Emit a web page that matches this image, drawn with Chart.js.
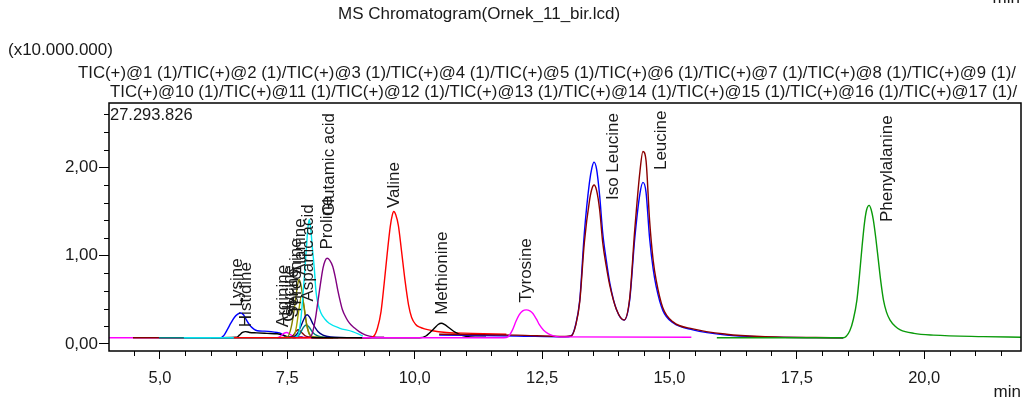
<!DOCTYPE html>
<html>
<head>
<meta charset="utf-8">
<script src="https://cdn.jsdelivr.net/npm/chart.js@4.4.1/dist/chart.umd.min.js"></script>
<style>
  html, body { margin: 0; padding: 0; background: #fff; }
  #wrap { width: 1026px; height: 404px; }
</style>
</head>
<body>
<div id="wrap"><canvas id="chart" width="1026" height="404"></canvas></div>
<script>
// Chromatogram traces, [time (min), intensity (x10.000.000)]
const lysine = [[6.20,0.07],[6.26,0.10],[6.33,0.17],[6.39,0.235],[6.46,0.30],[6.52,0.335],[6.59,0.35],[6.64,0.33],[6.68,0.29],[6.73,0.24],[6.78,0.20],[6.85,0.165],[6.91,0.15],[7.05,0.145],[7.18,0.14],[7.30,0.13],[7.37,0.12],[7.42,0.10],[7.47,0.08],[7.80,0.075]];
const histidine = [[6.00,0.07],[6.50,0.075],[6.56,0.10],[6.62,0.13],[6.68,0.14],[6.76,0.13],[6.90,0.125],[7.10,0.12],[7.30,0.115],[7.42,0.10],[7.52,0.08],[7.80,0.075]];
const arginine = [[4.00,0.07],[7.30,0.07],[7.37,0.09],[7.43,0.12],[7.49,0.13],[7.55,0.11],[7.62,0.085],[7.75,0.075],[8.20,0.07]];
const glycine = [[4.47,0.07],[7.55,0.07],[7.62,0.10],[7.68,0.15],[7.72,0.16],[7.78,0.13],[7.86,0.09],[7.98,0.075],[8.40,0.07]];
const serine = [[4.98,0.07],[7.65,0.07],[7.74,0.11],[7.82,0.19],[7.87,0.215],[7.93,0.19],[8.00,0.13],[8.10,0.09],[8.25,0.075],[8.50,0.07]];
const threonine = [[7.40,0.07],[7.62,0.075],[7.68,0.20],[7.73,0.40],[7.78,0.55],[7.83,0.42],[7.88,0.22],[7.94,0.10],[8.05,0.075],[8.40,0.07]];
const alanine = [[7.30,0.07],[7.50,0.08],[7.58,0.20],[7.65,0.45],[7.70,0.66],[7.73,0.73],[7.77,0.66],[7.82,0.45],[7.88,0.22],[7.95,0.10],[8.05,0.075],[8.40,0.07]];
const asparticAcid = [[7.30,0.07],[7.60,0.075],[7.70,0.12],[7.78,0.22],[7.85,0.31],[7.89,0.33],[7.94,0.30],[8.01,0.22],[8.10,0.14],[8.20,0.10],[8.35,0.08],[8.97,0.07]];
const glutamicAcid = [[5.47,0.07],[7.60,0.07],[7.70,0.09],[7.76,0.25],[7.83,0.73],[7.87,1.05],[7.90,1.29],[7.93,1.41],[7.96,1.30],[7.99,1.10],[8.03,0.85],[8.06,0.61],[8.10,0.46],[8.16,0.35],[8.24,0.28],[8.32,0.235],[8.52,0.18],[8.78,0.14],[8.98,0.09]];
const proline = [[7.60,0.07],[7.94,0.075],[7.99,0.12],[8.05,0.28],[8.10,0.48],[8.15,0.68],[8.20,0.86],[8.24,0.94],[8.28,0.97],[8.33,0.95],[8.39,0.88],[8.44,0.76],[8.49,0.61],[8.54,0.48],[8.58,0.39],[8.65,0.30],[8.72,0.235],[8.82,0.18],[8.91,0.14],[9.04,0.10],[9.20,0.08],[9.40,0.075]];
const valine = [[6.45,0.07],[9.10,0.07],[9.20,0.09],[9.27,0.18],[9.34,0.37],[9.40,0.68],[9.46,1.02],[9.52,1.33],[9.56,1.46],[9.59,1.50],[9.63,1.46],[9.68,1.34],[9.74,1.06],[9.81,0.72],[9.88,0.44],[9.94,0.30],[10.02,0.22],[10.10,0.19],[10.35,0.15],[10.62,0.13],[11.13,0.12],[11.80,0.11]];
const methionine = [[7.97,0.07],[10.10,0.07],[10.22,0.09],[10.30,0.13],[10.39,0.18],[10.46,0.22],[10.52,0.235],[10.59,0.22],[10.68,0.18],[10.80,0.13],[10.94,0.095],[11.10,0.08],[11.40,0.075]];
const tyrosine = [[8.97,0.07],[11.75,0.07],[11.83,0.08],[11.92,0.16],[11.99,0.26],[12.05,0.33],[12.12,0.375],[12.19,0.386],[12.26,0.375],[12.32,0.345],[12.39,0.28],[12.45,0.215],[12.53,0.155],[12.61,0.12],[12.71,0.095],[12.85,0.08],[15.43,0.075]];
const isoLeucine = [[10.48,0.10],[12.00,0.09],[12.95,0.08],[13.07,0.09],[13.16,0.22],[13.24,0.50],[13.33,1.26],[13.43,1.83],[13.48,2.00],[13.52,2.06],[13.57,1.98],[13.63,1.68],[13.69,1.26],[13.76,0.95],[13.83,0.69],[13.96,0.39],[14.11,0.27],[14.22,0.50],[14.32,1.20],[14.42,1.70],[14.48,1.83],[14.54,1.72],[14.61,1.20],[14.68,0.85],[14.74,0.65],[14.87,0.38],[15.07,0.24],[15.46,0.16],[16.12,0.10],[16.78,0.08],[18.41,0.07]];
const leucine = [[10.48,0.11],[12.00,0.10],[12.95,0.085],[13.07,0.09],[13.16,0.21],[13.24,0.48],[13.33,1.15],[13.43,1.62],[13.48,1.76],[13.52,1.80],[13.57,1.74],[13.63,1.52],[13.69,1.15],[13.76,0.88],[13.83,0.66],[13.96,0.39],[14.11,0.27],[14.22,0.52],[14.32,1.30],[14.42,1.95],[14.48,2.18],[14.54,2.08],[14.61,1.40],[14.68,0.95],[14.74,0.72],[14.87,0.41],[15.07,0.25],[15.46,0.17],[16.12,0.11],[16.78,0.085],[18.41,0.07]];
const phenylalanine = [[15.93,0.07],[18.41,0.07],[18.54,0.15],[18.61,0.28],[18.68,0.50],[18.73,0.78],[18.78,1.10],[18.83,1.38],[18.87,1.52],[18.92,1.57],[18.96,1.52],[19.00,1.41],[19.05,1.20],[19.10,0.95],[19.15,0.70],[19.20,0.50],[19.26,0.36],[19.33,0.27],[19.43,0.20],[19.53,0.16],[19.80,0.12],[20.18,0.10],[21.16,0.083],[21.90,0.076]];

// first in list is drawn on top
const traces = [tyrosine, phenylalanine, leucine, isoLeucine, methionine, valine, proline, glutamicAcid,
  asparticAcid, alanine, threonine, serine, glycine, arginine, histidine, lysine];
const traceColors = ["#ff00ff", "#0a9a0a", "#8b0000", "#0000ff", "#000000", "#ff0000", "#800080", "#00e5ee",
  "#000080", "#808000", "#a3a300", "#008080", "#800000", "#ff00ff", "#000000", "#0000ff"];

// peak labels, anchored at [time, intensity]
const peakNames = ["Lysine", "Histidine", "Arginine", "Glycine", "Serine", "Threonine", "Alanine", "Aspartic acid",
  "Glutamic acid", "Proline", "Valine", "Methionine", "Tyrosine", "Iso Leucine", "Leucine", "Phenylalanine"];
const labelTimes = [6.51, 6.69, 7.42, 7.54, 7.61, 7.68, 7.75, 7.91, 8.32, 8.28, 9.60, 10.54, 12.20, 13.89, 14.85, 19.27];
const labelHeights = [0.42, 0.19, 0.19, 0.25, 0.30, 0.33, 0.78, 0.48, 1.45, 1.07, 1.54, 0.33, 0.47, 1.63, 1.97, 1.38];

// axes
const xMajorTicks = [5, 7.5, 10, 12.5, 15, 17.5, 20];
const yMajorTicks = [0, 1, 2];
const xMin = 4.0, xMax = 21.9;
const yMin = -0.08, yMax = 2.7293826;

const xTicks = [];
for (let v = 4.5; v <= 21.5; v += 0.5) xTicks.push(v);
const yTicks = [];
for (let i = 0; i <= 13; i++) yTicks.push(Math.round(i * 2) / 10);
const isMajorY = v => yMajorTicks.some(m => Math.abs(m - v) < 1e-6);

const FONT = '"Liberation Sans", Arial, sans-serif';
const TEXT = "#1a1a1a";

const decor = {
  id: "decor",
  afterDraw(chart) {
    const { ctx, chartArea: a, scales: { x, y } } = chart;
    ctx.save();

    // minor ticks
    ctx.strokeStyle = "#000";
    ctx.lineWidth = 1;
    ctx.beginPath();
    xTicks.filter(v => !xMajorTicks.includes(v)).forEach(v => {
      const px = Math.round(x.getPixelForValue(v)) + 0.5;
      ctx.moveTo(px, a.bottom);
      ctx.lineTo(px, a.bottom + 5);
    });
    yTicks.filter(v => !isMajorY(v)).forEach(v => {
      const py = Math.round(y.getPixelForValue(v)) + 0.5;
      ctx.moveTo(a.left - 5, py);
      ctx.lineTo(a.left, py);
    });
    ctx.stroke();

    // frame
    ctx.lineWidth = 1.5;
    ctx.strokeRect(a.left, a.top, a.right - a.left, a.bottom - a.top);

    // peak labels
    ctx.fillStyle = TEXT;
    ctx.font = "17px " + FONT;
    ctx.textAlign = "left";
    ctx.textBaseline = "middle";
    peakNames.forEach((name, i) => {
      ctx.save();
      ctx.translate(x.getPixelForValue(labelTimes[i]), y.getPixelForValue(labelHeights[i]));
      ctx.rotate(-Math.PI / 2);
      ctx.fillText(name, 0, 0);
      ctx.restore();
    });

    // header texts
    ctx.textBaseline = "middle";
    ctx.font = "16.5px " + FONT;
    ctx.fillText("27.293.826", a.left + 1, a.top + 12);
    ctx.font = "17px " + FONT;
    ctx.fillText("MS Chromatogram(Ornek_11_bir.lcd)", 338, 14);
    ctx.fillText("(x10.000.000)", 8, 50);
    ctx.font = "16.8px " + FONT;
    ctx.fillText("TIC(+)@1 (1)/TIC(+)@2 (1)/TIC(+)@3 (1)/TIC(+)@4 (1)/TIC(+)@5 (1)/TIC(+)@6 (1)/TIC(+)@7 (1)/TIC(+)@8 (1)/TIC(+)@9 (1)/", 78, 73);
    ctx.fillText("TIC(+)@10 (1)/TIC(+)@11 (1)/TIC(+)@12 (1)/TIC(+)@13 (1)/TIC(+)@14 (1)/TIC(+)@15 (1)/TIC(+)@16 (1)/TIC(+)@17 (1)/", 110, 92);
    ctx.font = "17px " + FONT;
    ctx.textAlign = "right";
    ctx.fillText("min", 1020, -2);
    ctx.restore();
  }
};

new Chart(document.getElementById("chart"), {
  type: "line",
  data: {
    datasets: traces.map((points, i) => ({
      data: points.map(p => ({ x: p[0], y: p[1] })),
      borderColor: traceColors[i],
      borderWidth: 1.4,
      pointRadius: 0,
      fill: false,
      cubicInterpolationMode: "monotone",
    })),
  },
  options: {
    responsive: false,
    animation: false,
    devicePixelRatio: 1,
    layout: { padding: { top: 103, right: 5, bottom: 0, left: 0 } },
    plugins: { legend: { display: false }, tooltip: { enabled: false } },
    scales: {
      x: {
        type: "linear",
        min: xMin,
        max: xMax,
        afterBuildTicks: s => { s.ticks = xTicks.map(v => ({ value: v })); },
        afterFit: s => { s.height = 53; },
        ticks: {
          autoSkip: false,
          maxRotation: 0,
          padding: 10,
          color: TEXT,
          font: { size: 16.5, family: FONT },
          callback: v => xMajorTicks.includes(v) ? v.toFixed(1).replace(".", ",") : "",
        },
        grid: {
          drawOnChartArea: false,
          tickLength: 8,
          tickColor: c => (c.tick && xMajorTicks.includes(c.tick.value)) ? "#000" : "rgba(0,0,0,0)",
        },
        border: { display: false },
        title: {
          display: true, text: "min", align: "end", color: TEXT,
          font: { size: 17, family: FONT }, padding: { top: 0, bottom: 1 },
        },
      },
      y: {
        type: "linear",
        min: yMin,
        max: yMax,
        afterBuildTicks: s => { s.ticks = yTicks.map(v => ({ value: v })); },
        afterFit: s => { s.width = 109; },
        ticks: {
          autoSkip: false,
          padding: 1,
          color: TEXT,
          font: { size: 17, family: FONT },
          callback: v => isMajorY(v) ? v.toFixed(2).replace(".", ",") : "",
        },
        grid: {
          drawOnChartArea: false,
          tickLength: 10,
          tickColor: c => (c.tick && isMajorY(c.tick.value)) ? "#000" : "rgba(0,0,0,0)",
        },
        border: { display: false },
      },
    },
  },
  plugins: [decor],
});
</script>
</body>
</html>
